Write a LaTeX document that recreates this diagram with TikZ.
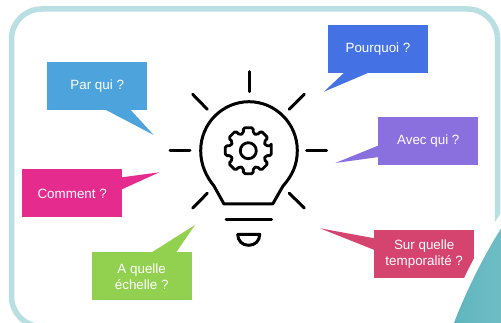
\documentclass[tikz,border=0pt]{standalone}
\usepackage{fontspec}
\setmainfont{Liberation Sans}
\definecolor{frameblue}{HTML}{B9DFE3}
\definecolor{tealdark}{HTML}{5FB5BD}
\definecolor{teallight}{HTML}{74C0C8}
\definecolor{cpar}{HTML}{4DA3DC}
\definecolor{ccomment}{HTML}{E52B8E}
\definecolor{cechelle}{HTML}{92D050}
\definecolor{cpourquoi}{HTML}{4472E4}
\definecolor{cavec}{HTML}{8A6FDF}
\definecolor{csur}{HTML}{D5436F}
\tikzset{
  bubble/.style={minimum width=100pt,minimum height=48pt,inner sep=0pt,align=center,text=white,
    font=\fontsize{13.4}{16}\selectfont},
  icon/.style={draw=black,line width=3pt,line cap=round,line join=round},
}
\begin{document}
\begin{tikzpicture}[x=1pt,y=-1pt]
\useasboundingbox (0,0) rectangle (501,323);
\begin{scope}
\clip (0,0) rectangle (501,323);
\fill[white] (0,0) rectangle (501,323);
\draw[frameblue,line width=5.5pt,rounded corners=30pt] (11.5,9) rectangle (497.5,326.5);
% speech bubbles
\node[bubble,fill=cpar] (par) at (97.2,86.3) {Par qui ?};
\fill[cpar] (106,110) -- (153.7,135) -- (130.7,110) -- cycle;
\node[bubble,fill=ccomment] (comment) at (72.2,193.5) {Comment ?};
\fill[ccomment] (122,177.3) -- (159.3,172.3) -- (122,189.3) -- cycle;
\node[bubble,fill=cechelle] (echelle) at (141.7,276.5) {A quelle\\échelle ?};
\fill[cechelle] (150.7,253) -- (195,225) -- (175.7,253) -- cycle;
\node[bubble,fill=cpourquoi] (pourquoi) at (378,49) {Pourquoi ?};
\fill[cpourquoi] (344.3,72.5) -- (324,91.7) -- (369,72.5) -- cycle;
\node[bubble,fill=cavec] (avec) at (428.3,140.7) {Avec qui ?};
\fill[cavec] (379,145.3) -- (335.3,163) -- (379,157) -- cycle;
\node[bubble,fill=csur] (sur) at (424.2,254.3) {Sur quelle\\temporalité ?};
\fill[csur] (374.5,238.3) -- (320,228.3) -- (374.5,250) -- cycle;
% corner shape
\path[draw=white,line width=17pt]
  (451,331) .. controls (461,303) and (482,256) .. (508,218);
\path[left color=tealdark,right color=teallight]
  (451,331) .. controls (461,303) and (482,256) .. (508,218) -- (520,340) -- cycle;
% bulb
\draw[icon] (224,204) -- (272.7,204) -- (283,186)
  .. controls (292,176) and (297.3,165) .. (297.3,150.5)
  .. controls (297.3,123) and (275,101.7) .. (249,101.7)
  .. controls (223,101.7) and (200.7,123) .. (200.7,150.5)
  .. controls (200.7,165) and (206,176) .. (214,186) -- cycle;
\draw[icon] (249,71.7) -- (249,91.7);
\draw[icon] (170,151) -- (190,151);
\draw[icon] (306.7,151) -- (326.7,151);
\draw[icon] (192.7,94.3) -- (207.3,109.3);
\draw[icon] (304.3,94.3) -- (289.3,109.3);
\draw[icon] (207.3,193.3) -- (192.7,208);
\draw[icon] (289.3,193.3) -- (304.3,208);
\draw[icon] (226,220) -- (271.7,220);
\draw[icon] (237.7,234.3) -- (259.7,234.3)
  .. controls (259.7,241) and (255,245.3) .. (248.7,245.3)
  .. controls (242.4,245.3) and (237.7,241) .. (237.7,234.3);
% gear
\begin{scope}[shift={(248.3,150.7)}]
\draw[icon,line width=2.8pt,rounded corners=1.6pt]
  (-12:23.5)
  \foreach \a in {0,45,...,315}{
    -- ({\a-12}:23.5) -- ({\a+12}:23.5) -- ({\a+16}:18) -- ({\a+29}:18)
  } -- cycle;
\draw[icon,line width=2.8pt] (0,0) circle[radius=8pt];
\end{scope}
\end{scope}
\end{tikzpicture}
\end{document}
